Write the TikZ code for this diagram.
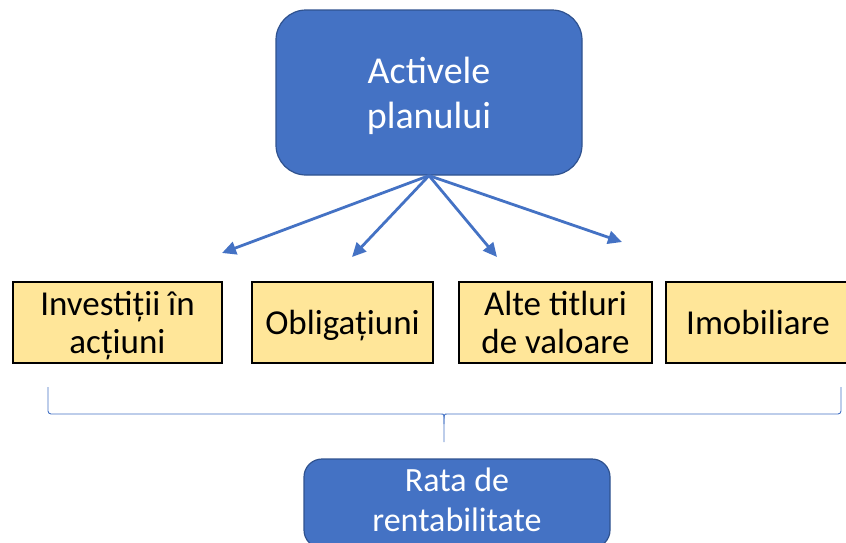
\documentclass[tikz,border=0pt]{standalone}
\usepackage{fontspec}
\setmainfont{Carlito}
\usetikzlibrary{arrows.meta,positioning}
\definecolor{planblue}{HTML}{4472C4}
\definecolor{planedge}{HTML}{2F528F}
\definecolor{assetyellow}{HTML}{FFE699}

\begin{document}
\begin{tikzpicture}[x=1pt,y=-1pt,
    bluebox/.style={draw=planedge, line width=1.2pt, fill=planblue, text=white, align=center, inner sep=0pt, text depth=0pt},
    assetbox/.style={draw=black, line width=1.3pt, fill=assetyellow, align=center, inner sep=0pt, text depth=0pt, minimum height=81pt, font=\fontsize{35}{38}\selectfont},
    splitarrow/.style={draw=planblue, line width=2.8pt, -{Triangle[length=14pt,width=13pt]}}]
    \useasboundingbox (0,0) rectangle (846,542);

    % top box
    \node[bluebox, rounded corners=30pt, minimum width=306pt, minimum height=165pt, font=\fontsize{38}{45}\selectfont] (plan) at (429,92.5) {Activele\\planului};

    % asset classes
    \node[assetbox, minimum width=209pt] (actiuni) at (117.5,322.5) {Investiții în\\acțiuni};
    \node[assetbox, minimum width=181pt] (oblig) at (342.5,322.5) {Obligațiuni};
    \node[assetbox, minimum width=193pt] (titluri) at (555.5,322.5) {Alte titluri\\de valoare};
    \node[assetbox, minimum width=184pt] (imob) at (758,322.5) {Imobiliare};

    % arrow ends
    \coordinate (tipA) at (222,253);
    \coordinate (tipB) at (352,257);
    \coordinate (tipC) at (497,257);
    \coordinate (tipD) at (622,242);
    \foreach \t in {tipA,tipB,tipC,tipD}
        \draw[splitarrow] (plan.south) -- (\t);

    % brace
    \coordinate (braceL) at (48,387);
    \coordinate (braceR) at (841,387);
    \coordinate (braceM) at (444,442);
    \draw[planblue, line width=0.9pt, rounded corners=3pt]
        (braceL) -- (48,414) -- (438,414) .. controls (444,414) .. (444,424) -- (braceM);
    \draw[planblue, line width=0.9pt, rounded corners=3pt]
        (braceR) -- (841,414) -- (450,414) .. controls (444,414) .. (444,424);

    % result
    \node[bluebox, rounded corners=18pt, minimum width=306pt, minimum height=89pt, text depth=8pt, font=\fontsize{34}{40}\selectfont] (rata) at (457,503.5) {Rata de\\rentabilitate};
\end{tikzpicture}
\end{document}
